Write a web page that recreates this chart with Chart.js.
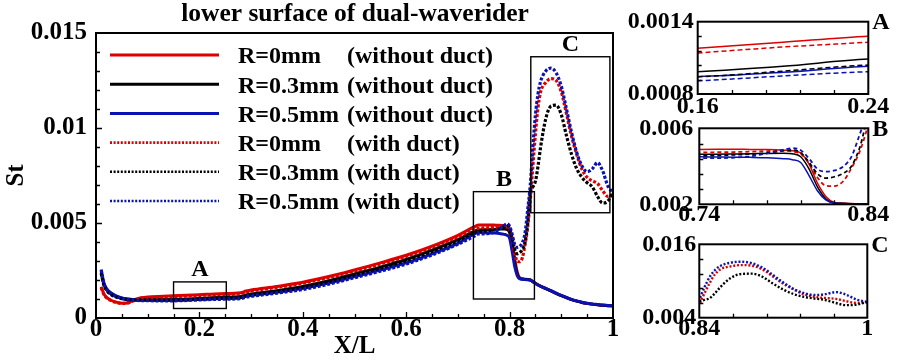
<!DOCTYPE html>
<html><head><meta charset="utf-8">
<script src="https://cdn.jsdelivr.net/npm/chart.js@4.4.0/dist/chart.umd.min.js"></script>
<style>
html,body{margin:0;padding:0;background:#fff;}
#wrap{position:relative;width:899px;height:363px;overflow:hidden;background:#fff;}
canvas{position:absolute;left:0;top:0;}
</style></head><body>
<div id="wrap">
<canvas id="main" width="710" height="363"></canvas>
<canvas id="insA" width="899" height="363"></canvas>
<canvas id="insB" width="899" height="363"></canvas>
<canvas id="insC" width="899" height="363"></canvas>
</div>
<script>
// ---------------- DATA ----------------
const chartTitle = 'lower surface of dual-waverider';
const xTitle = 'X/L';
const yTitle = 'St';
const seriesNames = ['R=0mm', 'R=0.3mm', 'R=0.5mm', 'R=0mm', 'R=0.3mm', 'R=0.5mm'];
const ductNotes = ['(without duct)', '(without duct)', '(without duct)', '(with duct)', '(with duct)', '(with duct)'];

const xs = [0.01,0.015,0.02,0.03,0.04,0.05,0.06,0.07,0.08,0.1,
  0.13,0.16,0.2,0.24,0.28,0.29,0.3,0.35,0.4,0.45,
  0.5,0.55,0.6,0.65,0.7,0.73,0.74,0.75,0.76,0.77,
  0.78,0.79,0.795,0.8,0.805,0.81,0.815,0.82,0.825,0.83,
  0.835,0.84,0.845,0.85,0.855,0.86,0.87,0.88,0.89,0.9,
  0.91,0.92,0.93,0.94,0.95,0.96,0.97,0.98,0.99,1.0];

// R=0mm without duct
const stR0 = [0.00165,0.00128,0.00110,0.00092,0.00083,0.00078,0.00079,0.00090,0.00102,0.00110,
  0.00114,0.00118,0.00123,0.00128,0.00133,0.00142,0.00147,0.00166,0.00188,0.00218,
  0.00253,0.00290,0.00330,0.00378,0.00435,0.00478,0.00489,0.00490,0.00490,0.00489,
  0.00488,0.00485,0.00482,0.00470,0.00410,0.00310,0.00240,0.00210,0.00206,0.00204,
  0.00203,0.00201,0.00192,0.00183,0.00175,0.00168,0.00155,0.00143,0.00130,0.00118,
  0.00107,0.00097,0.00089,0.00082,0.00077,0.00073,0.00070,0.00067,0.00065,0.00063];
// R=0.3mm without duct
const stR3 = [0.00240,0.00180,0.00150,0.00125,0.00112,0.00104,0.00100,0.00098,0.00097,0.00097,
  0.00097,0.000985,0.00103,0.00109,0.00113,0.00121,0.00126,0.00144,0.00166,0.00196,
  0.00232,0.00268,0.00308,0.00357,0.00412,0.00455,0.00463,0.00464,0.00465,0.00466,
  0.00468,0.00469,0.00466,0.00450,0.00385,0.00290,0.00228,0.00207,0.00205,0.00203,
  0.00202,0.00200,0.00191,0.00182,0.00174,0.00167,0.00155,0.00143,0.00130,0.00118,
  0.00107,0.00097,0.00089,0.00082,0.00077,0.00073,0.00070,0.00067,0.00065,0.00063];
// R=0.5mm without duct
const stR5 = [0.00255,0.00188,0.00156,0.00130,0.00115,0.00106,0.00100,0.00097,0.00096,0.00095,
  0.00094,0.000944,0.00098,0.00103,0.00107,0.00115,0.00119,0.00136,0.00156,0.00184,
  0.00218,0.00252,0.00290,0.00338,0.00393,0.00440,0.00450,0.00449,0.00448,0.00447,
  0.00445,0.00440,0.00435,0.00420,0.00350,0.00270,0.00222,0.00206,0.00204,0.00202,
  0.00201,0.00199,0.00191,0.00182,0.00174,0.00167,0.00156,0.00144,0.00131,0.00119,
  0.00108,0.00098,0.00090,0.00083,0.00078,0.00074,0.00071,0.00068,0.00066,0.00064];
// R=0mm with duct
const dtR0 = [0.00160,0.00125,0.00107,0.00090,0.00081,0.00077,0.00078,0.00088,0.00099,0.00107,
  0.00110,0.00114,0.00119,0.00123,0.00129,0.00137,0.00142,0.00161,0.00183,0.00213,
  0.00247,0.00284,0.00324,0.00372,0.00428,0.00465,0.00472,0.00474,0.00475,0.00477,
  0.00480,0.00482,0.00478,0.00465,0.00415,0.00340,0.00298,0.00296,0.00320,0.00390,
  0.00480,0.00620,0.00800,0.00970,0.01110,0.01190,0.01240,0.01260,0.01250,0.01190,
  0.01075,0.00955,0.00860,0.00782,0.00740,0.00722,0.00708,0.00670,0.00640,0.00650];
// R=0.3mm with duct
const dtR3 = [0.00235,0.00176,0.00147,0.00122,0.00109,0.00101,0.00097,0.00095,0.00094,0.00094,
  0.00094,0.000944,0.00099,0.00104,0.00108,0.00116,0.00121,0.00139,0.00160,0.00190,
  0.00226,0.00262,0.00302,0.00350,0.00405,0.00448,0.00455,0.00457,0.00460,0.00464,
  0.00470,0.00482,0.00486,0.00472,0.00420,0.00360,0.00338,0.00345,0.00362,0.00400,
  0.00500,0.00660,0.00690,0.00720,0.00800,0.00900,0.01050,0.01115,0.01120,0.01070,
  0.00960,0.00860,0.00785,0.00740,0.00712,0.00690,0.00640,0.00605,0.00615,0.00660];
// R=0.5mm with duct
const dtR5 = [0.00252,0.00185,0.00153,0.00127,0.00112,0.00103,0.00097,0.00094,0.00092,0.00091,
  0.00090,0.00091,0.00095,0.000985,0.00102,0.00110,0.00114,0.00131,0.00150,0.00178,
  0.00212,0.00246,0.00284,0.00332,0.00388,0.00428,0.00442,0.00443,0.00445,0.00452,
  0.00468,0.00488,0.00495,0.00485,0.00440,0.00385,0.00372,0.00378,0.00398,0.00450,
  0.00570,0.00700,0.00900,0.01070,0.01180,0.01245,0.01300,0.01315,0.01290,0.01220,
  0.01100,0.00975,0.00870,0.00800,0.00770,0.00785,0.00818,0.00775,0.00695,0.00660];

const mainXTickValues = [0, 0.2, 0.4, 0.6, 0.8, 1];
const mainXTickLabels = ['0', '0.2', '0.4', '0.6', '0.8', '1'];
const mainYTickValues = [0, 0.005, 0.01, 0.015];
const mainYTickLabels = ['0', '0.005', '0.01', '0.015'];

// zoom regions marked on the main plot
const boxNames = ['A', 'B', 'C'];
const boxX0 = [0.15, 0.73, 0.841];
const boxX1 = [0.252, 0.848, 0.994];
const boxY0 = [0.0005, 0.001, 0.00554];
const boxY1 = [0.0019, 0.00665, 0.01375];

// inset ranges and tick labels
const insetXMin = [0.16, 0.74, 0.84];
const insetXMax = [0.24, 0.84, 1];
const insetYMin = [0.0008, 0.002, 0.004];
const insetYMax = [0.0014, 0.006, 0.016];
const insetXTickLabels = [['0.16', '0.24'], ['0.74', '0.84'], ['0.84', '1']];
const insetYTickLabels = [['0.0008', '0.0014'], ['0.002', '0.006'], ['0.004', '0.016']];

// ---------------- STYLE / RENDER ----------------
const SERIF = '"Liberation Serif","Times New Roman",Times,serif';
const COLORS = ['#dc0000', '#000000', '#0a12b4'];
const seriesValues = [stR0, stR3, stR5, dtR0, dtR3, dtR5];

function buildDatasets(style) {
  return seriesValues.map((vals, i) => {
    const dotted = i >= 3;
    return {
      label: seriesNames[i] + ' ' + ductNotes[i],
      data: xs.map((x, k) => ({x: x, y: vals[k]})),
      borderColor: COLORS[i % 3],
      backgroundColor: COLORS[i % 3],
      borderWidth: dotted ? style.dw : style.sw,
      borderDash: dotted ? style.dash : [],
      borderCapStyle: 'butt',
      pointRadius: 0,
      cubicInterpolationMode: 'monotone',
      fill: false,
      yAxisID: 'y',
      order: 6 - i
    };
  });
}

function framePlugin(cfg) {
  return {
    id: 'frameTicks',
    afterDatasetsDraw(chart) {
      const {ctx, chartArea: a, scales: {x, y}} = chart;
      ctx.save();
      ctx.strokeStyle = '#000';
      ctx.lineWidth = 1.3;
      ctx.setLineDash([]);
      ctx.beginPath();
      for (let i = 1; i < cfg.xDiv; i++) {
        const v = cfg.xMin + (cfg.xMax - cfg.xMin) * i / cfg.xDiv;
        const px = Math.round(x.getPixelForValue(v)) + 0.5;
        const len = (i % cfg.xMajor === 0) ? cfg.major : cfg.minor;
        ctx.moveTo(px, a.bottom); ctx.lineTo(px, a.bottom - len);
      }
      for (let i = 1; i < cfg.yDiv; i++) {
        const v = cfg.yMin + (cfg.yMax - cfg.yMin) * i / cfg.yDiv;
        const py = Math.round(y.getPixelForValue(v)) + 0.5;
        const len = (i % cfg.yMajor === 0) ? cfg.major : cfg.minor;
        ctx.moveTo(a.left, py); ctx.lineTo(a.left + len, py);
      }
      ctx.stroke();
      ctx.lineWidth = cfg.frame;
      ctx.strokeRect(a.left, a.top, a.right - a.left, a.bottom - a.top);
      ctx.restore();
    }
  };
}

const boxPlugin = {
  id: 'zoomBoxes',
  afterDatasetsDraw(chart) {
    const {ctx, scales: {x, y}} = chart;
    ctx.save();
    ctx.strokeStyle = '#000';
    ctx.lineWidth = 1.4;
    ctx.fillStyle = '#000';
    ctx.font = 'bold 24px ' + SERIF;
    ctx.textAlign = 'center';
    ctx.textBaseline = 'alphabetic';
    for (let i = 0; i < boxNames.length; i++) {
      const l = x.getPixelForValue(boxX0[i]), r = x.getPixelForValue(boxX1[i]);
      const t = y.getPixelForValue(boxY1[i]), b = y.getPixelForValue(boxY0[i]);
      ctx.strokeRect(l, t, r - l, b - t);
      ctx.fillText(boxNames[i], (l + r) / 2, t - 6);
    }
    ctx.restore();
  }
};

const legendPlugin = {
  id: 'insideLegend',
  afterDraw(chart) {
    const {ctx, chartArea: a} = chart;
    ctx.save();
    for (let i = 0; i < seriesNames.length; i++) {
      const yy = a.top + 22 + i * 29.2;
      const dotted = i >= 3;
      ctx.strokeStyle = COLORS[i % 3];
      ctx.lineWidth = dotted ? 2.6 : 3;
      ctx.setLineDash(dotted ? [2, 1.6] : []);
      ctx.beginPath();
      ctx.moveTo(a.left + 14, yy); ctx.lineTo(a.left + 123, yy);
      ctx.stroke();
      ctx.setLineDash([]);
      ctx.fillStyle = '#000';
      ctx.font = 'bold 24px ' + SERIF;
      ctx.textAlign = 'left';
      ctx.textBaseline = 'alphabetic';
      ctx.fillText(seriesNames[i], a.left + 142, yy + 8.3);
      ctx.fillText(ductNotes[i], a.left + 251, yy + 8.3);
    }
    ctx.restore();
  }
};

function letterPlugin(letter) {
  return {
    id: 'insetLetter',
    afterDraw(chart) {
      const {ctx, chartArea: a} = chart;
      ctx.save();
      ctx.fillStyle = '#000';
      ctx.font = 'bold 24px ' + SERIF;
      ctx.textAlign = 'left';
      ctx.textBaseline = 'middle';
      ctx.fillText(letter, a.right + 4, a.top + 1);
      ctx.restore();
    }
  };
}

// ---- main chart ----
new Chart(document.getElementById('main'), {
  type: 'line',
  data: {datasets: buildDatasets({sw: 3, dw: 3.2, dash: [3, 1.8]})},
  options: {
    responsive: false, animation: false, devicePixelRatio: 1,
    layout: {padding: {left: 0, right: 0, top: 0, bottom: 0}},
    plugins: {
      legend: {display: false}, tooltip: {enabled: false},
      title: {display: true, text: chartTitle, color: '#000',
        font: {family: SERIF, size: 25.5, weight: 'bold', lineHeight: 1.1},
        padding: {top: 0.5, bottom: 4.45}}
    },
    scales: {
      x: {type: 'linear', min: 0, max: 1,
        grid: {display: false, drawTicks: false}, border: {display: false},
        afterBuildTicks: s => { s.ticks = mainXTickValues.map(v => ({value: v})); },
        afterFit: s => { s.height = 45; },
        ticks: {callback: (v, i) => mainXTickLabels[i], color: '#000', padding: -1,
          maxRotation: 0, autoSkip: false,
          font: {family: SERIF, size: 25, weight: 'bold', lineHeight: 1}},
        title: {display: true, text: xTitle, color: '#000',
          font: {family: SERIF, size: 25, weight: 'bold', lineHeight: 1.2},
          padding: {top: 0, bottom: 1.4}}
      },
      y: {type: 'linear', min: 0, max: 0.015, position: 'left',
        grid: {display: false, drawTicks: false}, border: {display: false},
        afterBuildTicks: s => { s.ticks = mainYTickValues.map(v => ({value: v})); },
        afterFit: s => { s.width = 96; },
        ticks: {callback: (v, i) => mainYTickLabels[i], color: '#000', padding: 9,
          autoSkip: false,
          font: {family: SERIF, size: 25, weight: 'bold', lineHeight: 1}},
        title: {display: true, text: yTitle, color: '#000',
          font: {family: SERIF, size: 25, weight: 'bold', lineHeight: 1.2},
          padding: {top: 1.6, bottom: 0}}
      },
      yr: {type: 'linear', position: 'right', min: 0, max: 1, display: true,
        grid: {display: false, drawTicks: false}, border: {display: false},
        ticks: {display: false},
        afterFit: s => { s.width = 97; }
      }
    }
  },
  plugins: [boxPlugin, legendPlugin,
    framePlugin({xMin: 0, xMax: 1, xDiv: 20, xMajor: 4, yMin: 0, yMax: 0.015, yDiv: 15, yMajor: 5,
      major: 6, minor: 4, frame: 2})]
});

// ---- insets ----
const insetAreas = [
  {l: 697.7, t: 21.7, r: 868.3, b: 94, ypad: 4, xpad: 1},
  {l: 699.3, t: 128.3, r: 868.3, b: 204.3, ypad: 6, xpad: -1.8},
  {l: 699.3, t: 244.3, r: 867.3, b: 317.7, ypad: 3, xpad: -1.2}
];
const insetStyles = [
  {sw: 1.5, dw: 1.5, dash: [5, 3]},
  {sw: 1.5, dw: 1.8, dash: [4, 3]},
  {sw: 1.5, dw: 2.4, dash: [2, 1.8]}
];
['insA', 'insB', 'insC'].forEach((id, k) => {
  const A = insetAreas[k];
  const W = 90, H = 40;
  new Chart(document.getElementById(id), {
    type: 'line',
    data: {datasets: buildDatasets(insetStyles[k])},
    options: {
      responsive: false, animation: false, devicePixelRatio: 1,
      layout: {padding: {left: A.l - W, right: 899 - A.r, top: A.t, bottom: 363 - A.b - H}},
      plugins: {legend: {display: false}, tooltip: {enabled: false}, title: {display: false}},
      scales: {
        x: {type: 'linear', min: insetXMin[k], max: insetXMax[k],
          grid: {display: false, drawTicks: false}, border: {display: false},
          afterBuildTicks: s => { s.ticks = [{value: insetXMin[k]}, {value: insetXMax[k]}]; },
          afterFit: s => { s.height = H; },
          ticks: {callback: (v, i) => insetXTickLabels[k][i], color: '#000', padding: A.xpad,
            maxRotation: 0, autoSkip: false,
            font: {family: SERIF, size: 24, weight: 'bold', lineHeight: 1}}
        },
        y: {type: 'linear', min: insetYMin[k], max: insetYMax[k],
          grid: {display: false, drawTicks: false}, border: {display: false},
          afterBuildTicks: s => { s.ticks = [{value: insetYMin[k]}, {value: insetYMax[k]}]; },
          afterFit: s => { s.width = W; },
          ticks: {callback: (v, i) => insetYTickLabels[k][i], color: '#000', padding: A.ypad,
            autoSkip: false,
            font: {family: SERIF, size: 24, weight: 'bold', lineHeight: 1}}
        }
      }
    },
    plugins: [letterPlugin(boxNames[k]),
      framePlugin({xMin: insetXMin[k], xMax: insetXMax[k], xDiv: 5, xMajor: 5,
        yMin: insetYMin[k], yMax: insetYMax[k], yDiv: 5, yMajor: 5, major: 4, minor: 4, frame: 2})]
  });
});
</script>
</body></html>
